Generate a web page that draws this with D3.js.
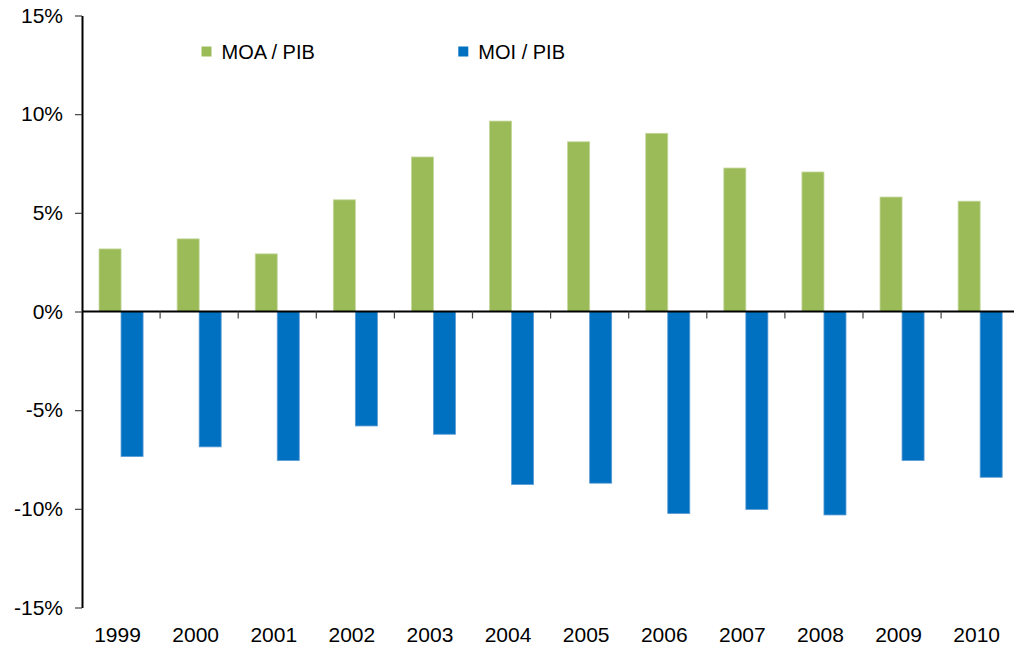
<!DOCTYPE html>
<html>
<head>
<meta charset="utf-8">
<script src="https://cdn.jsdelivr.net/npm/d3@7"></script>
<style>
  body { margin: 0; background: #fff; }
  svg { display: block; font-family: "Liberation Sans", Arial, sans-serif; }
  .axis text { font-size: 21px; fill: #000; }
</style>
</head>
<body>
<div class="chart"></div>
<script>
// Data.
const years = ['1999', '2000', '2001', '2002', '2003', '2004', '2005', '2006', '2007', '2008', '2009', '2010'];
const moa = [3.17, 3.68, 2.92, 5.66, 7.83, 9.65, 8.6, 9.03, 7.27, 7.07, 5.8, 5.59];
const moi = [-7.35, -6.86, -7.55, -5.8, -6.22, -8.77, -8.7, -10.24, -10.03, -10.31, -7.55, -8.4];
const yTicks = [-15, -10, -5, 0, 5, 10, 15];
const seriesNames = ['MOA / PIB', 'MOI / PIB'];
const colors = ['#9bbb59', '#0070c0'];
const edges = ['#c4d79b', '#5a9bd5'];

const W = 1014, H = 652;
const margin = {left: 82, top: 15.5, bottom: 607.5};
const step = 78.1;

const svg = d3.select('.chart')
  .append('svg')
  .attr('width', W)
  .attr('height', H);

// Scales.
const xScale = d3.scaleBand()
  .domain(years)
  .range([margin.left, margin.left + step * years.length])
  .paddingInner(0)
  .paddingOuter(0);

const yScale = d3.scaleLinear()
  .domain([-15, 15])
  .range([margin.bottom, margin.top]);

const barW = step * 0.282;

// Bars.
const rows = years.map((y, i) => ({year: y, moa: moa[i], moi: moi[i]}));

svg.selectAll('.bar-moa')
  .data(rows)
  .enter()
  .append('rect')
  .attr('class', 'bar-moa')
  .attr('x', d => xScale(d.year) + xScale.bandwidth() / 2 - barW)
  .attr('y', d => yScale(d.moa))
  .attr('width', barW)
  .attr('height', d => yScale(0) - yScale(d.moa))
  .style('fill', colors[0])
  .style('stroke', edges[0])
  .style('stroke-width', 0.8);

svg.selectAll('.bar-moi')
  .data(rows)
  .enter()
  .append('rect')
  .attr('class', 'bar-moi')
  .attr('x', d => xScale(d.year) + xScale.bandwidth() / 2)
  .attr('y', yScale(0))
  .attr('width', barW)
  .attr('height', d => yScale(d.moi) - yScale(0))
  .style('fill', colors[1])
  .style('stroke', edges[1])
  .style('stroke-width', 0.8);

// Y axis.
const yAxis = d3.axisLeft(yScale)
  .tickValues(yTicks)
  .tickFormat(d => d + '%')
  .tickSizeInner(7)
  .tickSizeOuter(0)
  .tickPadding(12);

const yAxisDraw = svg.append('g')
  .attr('class', 'y axis')
  .attr('transform', `translate(${margin.left},0)`)
  .call(yAxis);

yAxisDraw.select('.domain')
  .attr('stroke', '#000')
  .attr('stroke-width', 2);

yAxisDraw.selectAll('.tick line')
  .attr('stroke', '#444')
  .attr('stroke-width', 1.2);

// Zero line with ticks between categories.
svg.append('line')
  .attr('x1', margin.left)
  .attr('x2', W)
  .attr('y1', yScale(0))
  .attr('y2', yScale(0))
  .attr('stroke', '#000')
  .attr('stroke-width', 2);

svg.selectAll('.x-tick')
  .data(years.slice(1))
  .enter()
  .append('line')
  .attr('class', 'x-tick')
  .attr('x1', d => xScale(d))
  .attr('x2', d => xScale(d))
  .attr('y1', yScale(0))
  .attr('y2', yScale(0) + 7)
  .attr('stroke', '#444')
  .attr('stroke-width', 1.2);

// X labels at the bottom.
const xAxis = d3.axisBottom(xScale)
  .tickSize(0)
  .tickPadding(0);

const xAxisDraw = svg.append('g')
  .attr('class', 'x axis')
  .attr('transform', `translate(-3.5,${margin.bottom + 20})`)
  .call(xAxis);

xAxisDraw.select('.domain').remove();

// Legend.
const legendX = [201.5, 458.3];
const legend = svg.selectAll('.legend')
  .data(seriesNames)
  .enter()
  .append('g')
  .attr('class', 'legend')
  .attr('transform', (d, i) => `translate(${legendX[i]},46.5)`);

legend.append('rect')
  .attr('width', 10)
  .attr('height', 10)
  .style('fill', (d, i) => colors[i]);

legend.append('text')
  .attr('x', 20)
  .attr('y', 12.5)
  .style('font-size', '20px')
  .style('fill', '#000')
  .text(d => d);
</script>
</body>
</html>
